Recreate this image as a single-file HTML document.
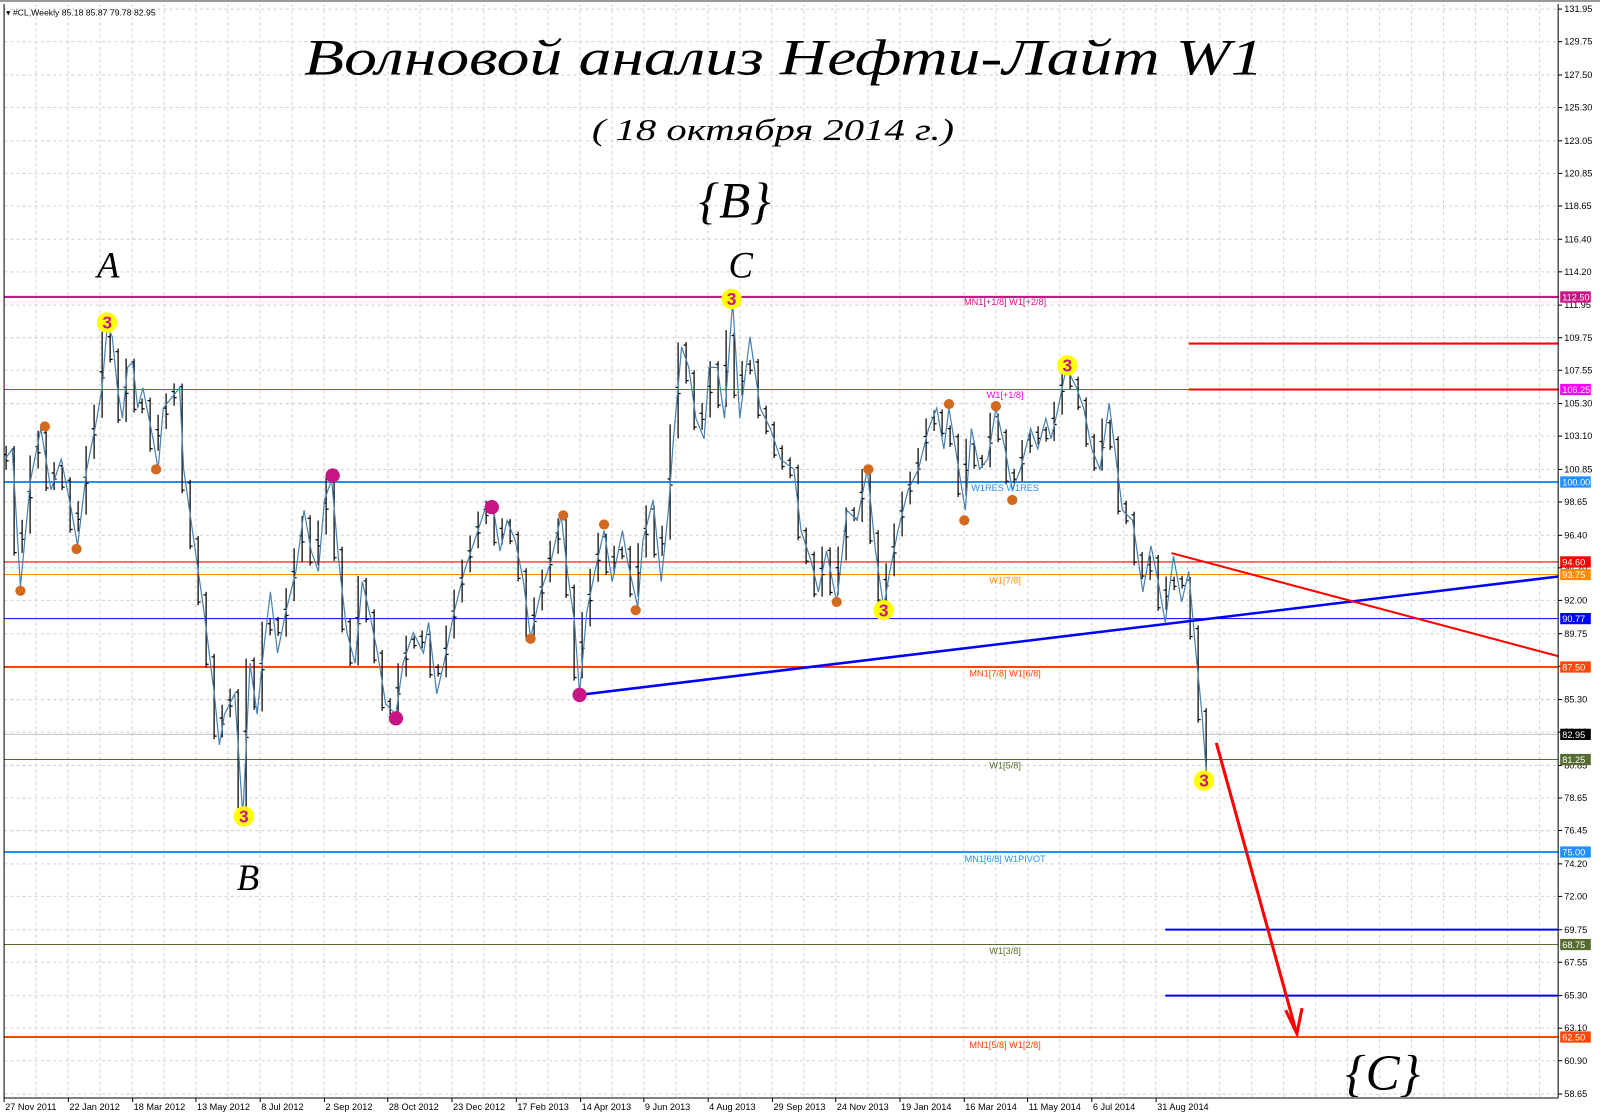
<!DOCTYPE html>
<html><head><meta charset="utf-8"><style>
html,body{margin:0;padding:0;background:#fff;}
svg{display:block}
text{font-family:"Liberation Sans","DejaVu Sans",sans-serif}
.h{font-family:"Liberation Serif","DejaVu Serif",serif;font-style:italic;fill:#000}
</style></head><body>
<svg id="s" width="1600" height="1118" viewBox="0 0 1600 1118" xmlns="http://www.w3.org/2000/svg">
<rect width="1600" height="1118" fill="#fff"/>
<g transform="scale(1.0204)">
<g id="grid"></g>
<g id="lines">
<line x1="4" y1="291" x2="1527" y2="291" stroke="#c71585" stroke-width="2"/>
<line x1="4" y1="381.7" x2="1527" y2="381.7" stroke="#ff00ff" stroke-width="1"/>
<line x1="1165" y1="336.7" x2="1527" y2="336.7" stroke="#ff0000" stroke-width="2"/>
<line x1="1165" y1="381.7" x2="1527" y2="381.7" stroke="#ff0000" stroke-width="2"/>
<line x1="4" y1="472.4" x2="1527" y2="472.4" stroke="#1e90ff" stroke-width="2"/>
<line x1="4" y1="550.7" x2="1527" y2="550.7" stroke="#ff0000" stroke-width="1"/>
<line x1="4" y1="563" x2="1527" y2="563" stroke="#ff8c00" stroke-width="1"/>
<line x1="4" y1="606.3" x2="1527" y2="606.3" stroke="#0000ff" stroke-width="1"/>
<line x1="4" y1="653.7" x2="1527" y2="653.7" stroke="#ff4500" stroke-width="2"/>
<line x1="4" y1="719.7" x2="1527" y2="719.7" stroke="#c0c0c0" stroke-width="1"/>
<line x1="4" y1="744.3" x2="1527" y2="744.3" stroke="#556b2f" stroke-width="1"/>
<line x1="4" y1="835" x2="1527" y2="835" stroke="#1e90ff" stroke-width="2"/>
<line x1="1142" y1="911" x2="1527" y2="911" stroke="#0000ff" stroke-width="2"/>
<line x1="4" y1="925.6" x2="1527" y2="925.6" stroke="#556b2f" stroke-width="1"/>
<line x1="1142" y1="975.7" x2="1527" y2="975.7" stroke="#0000ff" stroke-width="2"/>
<line x1="4" y1="1016.3" x2="1527" y2="1016.3" stroke="#ff4500" stroke-width="2"/>
</g>
<g font-size="9">
<text x="985" y="299" fill="#c71585" text-anchor="middle">MN1[+1/8] W1[+2/8]</text>
<text x="985" y="390" fill="#ff00ff" text-anchor="middle">W1[+1/8]</text>
<text x="985" y="481" fill="#1e90ff" text-anchor="middle">W1RES W1RES</text>
<text x="985" y="572" fill="#ff8c00" text-anchor="middle">W1[7/8]</text>
<text x="985" y="663" fill="#ff4500" text-anchor="middle">MN1[7/8] W1[6/8]</text>
<text x="985" y="753" fill="#556b2f" text-anchor="middle">W1[5/8]</text>
<text x="985" y="845" fill="#1e90ff" text-anchor="middle">MN1[6/8] W1PIVOT</text>
<text x="985" y="935" fill="#556b2f" text-anchor="middle">W1[3/8]</text>
<text x="985" y="1027" fill="#ff4500" text-anchor="middle">MN1[5/8] W1[2/8]</text>
</g>
<g id="bars" stroke="#000" stroke-width="1.2"></g>
<polyline id="pl" fill="none" stroke="#4682b4" stroke-width="1.2"/>
<line x1="568" y1="681" x2="1527" y2="565" stroke="#0000ff" stroke-width="2.5"/>
<line x1="1148" y1="542" x2="1527" y2="643" stroke="#ff0000" stroke-width="2"/>
<line x1="1192" y1="728" x2="1270" y2="1010" stroke="#ff0000" stroke-width="3"/>
<polyline points="1260,990 1271,1013 1276,988" fill="none" stroke="#ff0000" stroke-width="3"/>
<g id="circ"></g>
<line x1="4" y1="1076" x2="1527" y2="1076" stroke="#000"/>
<line x1="1527" y1="4" x2="1527" y2="1076" stroke="#000"/>
<line x1="4" y1="4" x2="4" y2="1076" stroke="#000"/>
<rect x="0" y="0" width="1568" height="2" fill="#999"/>
<g id="ax" font-size="9" fill="#000"></g>
<g id="tags" font-size="9"></g>
<text x="6" y="15" font-size="8.5">▾ #CL,Weekly  85.18 85.87 79.78 82.95</text>
<text class="h" x="298" y="73" font-size="50" textLength="940" lengthAdjust="spacingAndGlyphs">Волновой анализ Нефти-Лайт W1</text>
<text class="h" x="580" y="137" font-size="30" textLength="355" lengthAdjust="spacingAndGlyphs">( 18 октября 2014 г.)</text>
<text class="h" x="720" y="213" font-size="50" text-anchor="middle">{B}</text>
<text class="h" x="106" y="272" font-size="36" text-anchor="middle">A</text>
<text class="h" x="726" y="272" font-size="36" text-anchor="middle">C</text>
<text class="h" x="243" y="872" font-size="36" text-anchor="middle">B</text>
<text class="h" x="1355" y="1068" font-size="50" text-anchor="middle">{C}</text>
</g>
</svg>
<script>
var NS="http://www.w3.org/2000/svg";
function el(p,t,a,txt){var e=document.createElementNS(NS,t);for(var k in a)e.setAttribute(k,a[k]);if(txt!=null)e.textContent=txt;document.getElementById(p).appendChild(e);return e;}
function Y(p){return 1016.3-(p-62.5)*14.505;}
for(var x=4+31.35;x<1527;x+=31.35)el("grid","line",{x1:x,y1:4,x2:x,y2:1076,stroke:"#d0d0d0","stroke-dasharray":"3,3"});
var ticks=[131.95,129.75,127.50,125.30,123.05,120.85,118.65,116.40,114.20,111.95,109.75,107.55,105.30,103.10,100.85,98.65,96.40,94.20,92.00,89.75,87.55,85.30,83.10,80.85,78.65,76.45,74.20,72.00,69.75,67.55,65.30,63.10,60.90,58.65];
ticks.forEach(function(p){var y=Y(p);el("grid","line",{x1:4,y1:y,x2:1527,y2:y,stroke:"#d0d0d0","stroke-dasharray":"3,3"});
el("ax","line",{x1:1527,y1:y,x2:1531,y2:y,stroke:"#000"});el("ax","text",{x:1533,y:y+3},p.toFixed(2));});
var dates=["27 Nov 2011","22 Jan 2012","18 Mar 2012","13 May 2012","8 Jul 2012","2 Sep 2012","28 Oct 2012","23 Dec 2012","17 Feb 2013","14 Apr 2013","9 Jun 2013","4 Aug 2013","29 Sep 2013","24 Nov 2013","19 Jan 2014","16 Mar 2014","11 May 2014","6 Jul 2014","31 Aug 2014"];
var dx=[4,67,130,192,255,318,380,443,506,569,631,694,757,819,882,945,1007,1070,1133];
dates.forEach(function(d,i){el("ax","line",{x1:dx[i],y1:1076,x2:dx[i],y2:1080,stroke:"#000"});el("ax","text",{x:dx[i]+1,y:1088},d);});
var tags=[[112.5,"112.50","#c71585"],[106.25,"106.25","#ff00ff"],[100,"100.00","#1e90ff"],[94.6,"94.60","#ff0000"],[93.75,"93.75","#ff8c00"],[90.77,"90.77","#0000ff"],[87.5,"87.50","#ff4500"],[82.95,"82.95","#000"],[81.25,"81.25","#556b2f"],[75,"75.00","#1e90ff"],[68.75,"68.75","#556b2f"],[62.5,"62.50","#ff4500"]];
tags.forEach(function(t){var y=Y(t[0]);el("tags","rect",{x:1529,y:y-5.5,width:30,height:11,fill:t[2]});el("tags","text",{x:1531,y:y+3.5,fill:"#fff"},t[1]);});
var P=[[5,450],[12,440],[20,575],[30,470],[40,420],[50,480],[60,450],[70,500],[76,535],[85,460],[95,410],[100,380],[105,320],[110,330],[115,380],[120,410],[125,360],[130,355],[135,400],[140,380],[150,430],[155,460],[160,400],[168,390],[176,380],[180,460],[190,530],[200,600],[210,680],[215,730],[220,700],[230,680],[238,800],[245,650],[252,700],[258,640],[265,580],[272,640],[280,600],[290,560],[298,500],[305,540],[312,560],[318,490],[325,470],[332,550],[340,620],[348,650],[355,570],[362,600],[370,640],[378,690],[388,700],[395,650],[405,620],[415,640],[420,610],[428,680],[435,650],[445,600],[455,560],[465,530],[475,500],[483,495],[490,540],[497,510],[505,530],[513,570],[520,625],[530,580],[540,550],[550,505],[556,560],[563,610],[568,680],[575,600],[583,560],[592,520],[600,570],[610,520],[615,550],[625,595],[630,530],[640,490],[648,570],[655,500],[660,430],[668,340],[675,360],[682,410],[690,430],[695,360],[703,360],[710,410],[718,295],[725,410],[735,330],[745,400],[755,420],[765,450],[778,460],[785,520],[795,550],[802,580],[810,540],[820,590],[830,500],[840,510],[850,460],[858,540],[866,595],[872,560],[880,520],[890,480],[900,460],[910,420],[918,400],[925,440],[930,400],[938,450],[946,500],[952,420],[960,460],[968,450],[976,400],[985,440],[992,480],[1000,460],[1010,420],[1017,440],[1025,410],[1030,430],[1037,400],[1045,360],[1055,380],[1062,400],[1070,440],[1078,460],[1087,395],[1095,460],[1100,500],[1110,510],[1120,580],[1128,535],[1135,570],[1142,610],[1150,545],[1158,590],[1165,560],[1172,640],[1178,700],[1182,755]];
document.getElementById("pl").setAttribute("points",P.map(function(p){return p.join(",");}).join(" "));
function yAt(x){for(var i=1;i<P.length;i++){if(P[i][0]>=x){var a=P[i-1],b=P[i];return a[1]+(b[1]-a[1])*(x-a[0])/(b[0]-a[0]||1);}}return P[P.length-1][1];}
for(var x=6;x<1184;x+=7.84){var y0=yAt(x-4),y1=yAt(x+4),lo=Math.min(y0,y1)-6,hi=Math.max(y0,y1)+6;
el("bars","line",{x1:x,y1:lo,x2:x,y2:hi});el("bars","line",{x1:x-2.5,y1:(y0+lo)/2,x2:x,y2:(y0+lo)/2});el("bars","line",{x1:x,y1:(y1+hi)/2,x2:x+2.5,y2:(y1+hi)/2});}
[[105,316],[239,800],[717,293],[1046,358],[866,598],[1180,765]].forEach(function(c){el("circ","circle",{cx:c[0],cy:c[1],r:10,fill:"#ffff00"});el("circ","text",{x:c[0],y:c[1]+6,"font-size":17,fill:"#c71585","text-anchor":"middle","font-weight":"bold"},"3");});
[[44,418],[20,579],[75,538],[153,460],[520,626],[552,505],[592,514],[623,598],[820,590],[851,460],[930,396],[945,510],[976,398],[992,490]].forEach(function(c){el("circ","circle",{cx:c[0],cy:c[1],r:5,fill:"#d2691e"});});
[[326,466],[482,497],[388,704],[568,681]].forEach(function(c){el("circ","circle",{cx:c[0],cy:c[1],r:7,fill:"#c71585"});});
</script>
</body></html>
